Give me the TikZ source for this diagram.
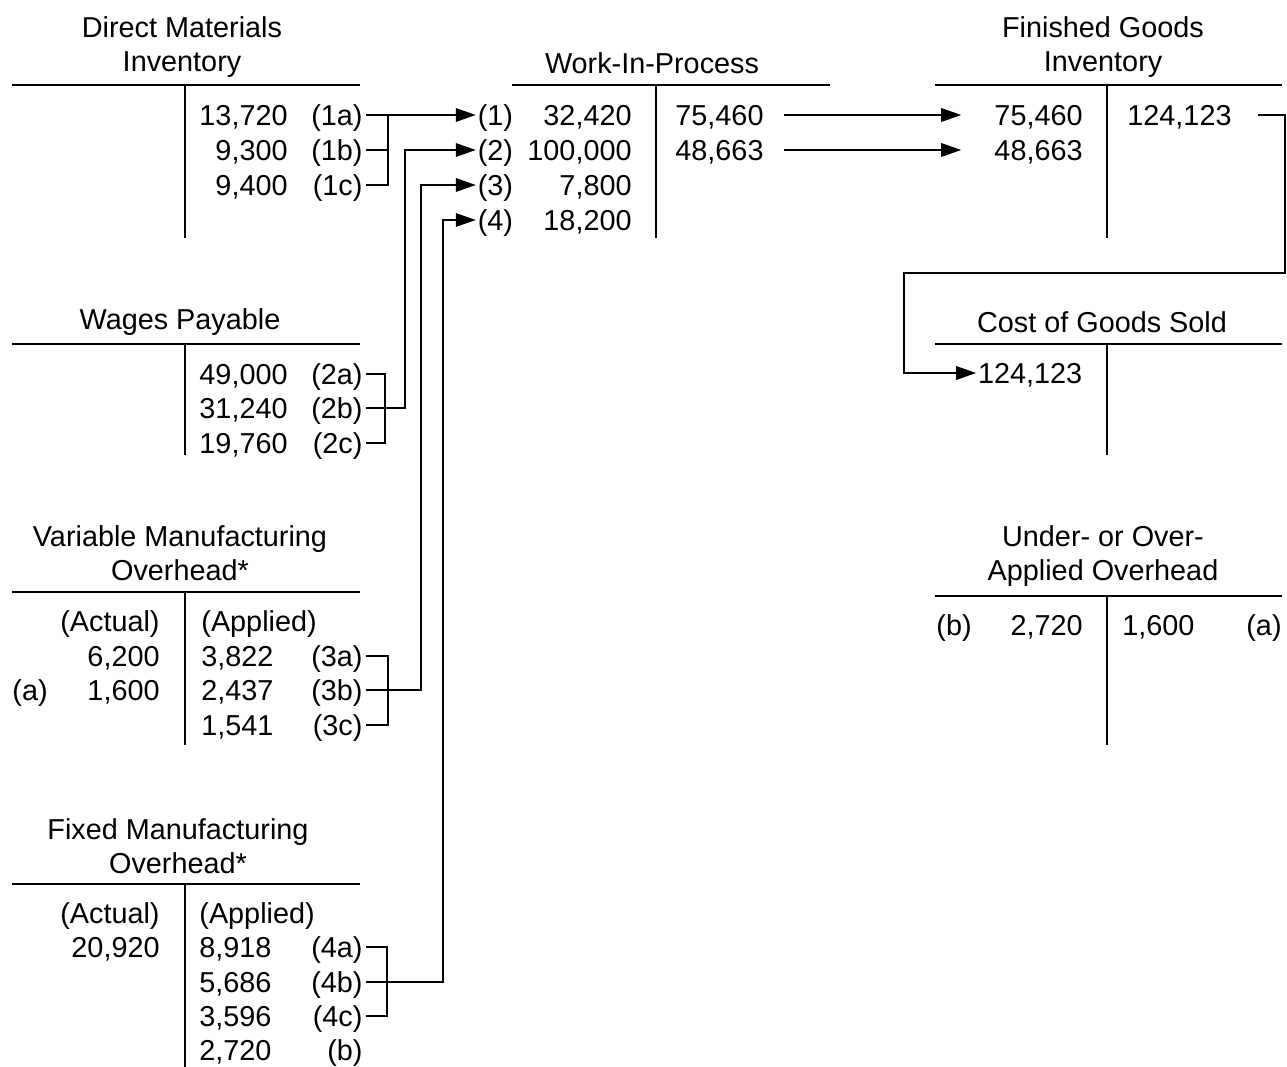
\documentclass[tikz,border=0pt]{standalone}
\usepackage{fontspec}
\setmainfont{Liberation Sans}
\usetikzlibrary{arrows.meta, calc}
\newcommand{\acctsize}{\fontsize{16.4}{19.6}\selectfont}

\begin{document}
\begin{tikzpicture}[x=0.02cm, y=-0.02cm, font=\acctsize, line width=1.6pt,
  >={Triangle[length=11.5pt, width=7.5pt]},
  title/.style={align=center, inner sep=0pt},
  ent/.style={inner sep=0pt, text height=11.5pt, text depth=0pt},
  rgt/.style={ent, anchor=east},
  lft/.style={ent, anchor=west},
  tag/.style={ent, anchor=east, outer xsep=2pt}]
  \useasboundingbox (0,0) rectangle (1287,1067);

  % Direct Materials Inventory
  \node[title] (dmT) at (182,47) {Direct Materials\\Inventory};
  \draw (12,85) -- (360,85);
  \draw (185,85) -- (185,238);
  \node[rgt] (dm1) at (289,115) {13,720};
  \node[rgt] (dm2) at (289,150) {9,300};
  \node[rgt] (dm3) at (289,185) {9,400};
  \node[tag] (dmA) at (366,115) {(1a)};
  \node[tag] (dmB) at (366,150) {(1b)};
  \node[tag] (dmC) at (366,185) {(1c)};

  % Wages Payable
  \node[title] (wgT) at (180,322) {Wages Payable};
  \draw (12,344) -- (360,344);
  \draw (185,344) -- (185,455);
  \node[rgt] (wg1) at (289,374) {49,000};
  \node[rgt] (wg2) at (289,408) {31,240};
  \node[rgt] (wg3) at (289,443) {19,760};
  \node[tag] (wgA) at (366,374) {(2a)};
  \node[tag] (wgB) at (366,408) {(2b)};
  \node[tag] (wgC) at (366,443) {(2c)};

  % Variable Manufacturing Overhead
  \node[title] (voT) at (180,553) {Variable Manufacturing\\Overhead*};
  \draw (12,592) -- (360,592);
  \draw (185,592) -- (185,745);
  \node[rgt] (voAct) at (161,621) {(Actual)};
  \node[rgt] (vo1) at (161,656) {6,200};
  \node[lft] (voa) at (11,690) {(a)};
  \node[rgt] (vo2) at (161,690) {1,600};
  \node[lft] (voApp) at (200,621) {(Applied)};
  \node[lft] (voR1) at (200,656) {3,822};
  \node[lft] (voR2) at (200,690) {2,437};
  \node[lft] (voR3) at (200,725) {1,541};
  \node[tag] (voA) at (366,656) {(3a)};
  \node[tag] (voB) at (366,690) {(3b)};
  \node[tag] (voC) at (366,725) {(3c)};

  % Fixed Manufacturing Overhead
  \node[title] (foT) at (178,846) {Fixed Manufacturing\\Overhead*};
  \draw (12,884) -- (360,884);
  \draw (185,884) -- (185,1067);
  \node[rgt] (foAct) at (161,913) {(Actual)};
  \node[rgt] (fo1) at (161,947) {20,920};
  \node[lft] (foApp) at (198,913) {(Applied)};
  \node[lft] (foR1) at (198,947) {8,918};
  \node[lft] (foR2) at (198,982) {5,686};
  \node[lft] (foR3) at (198,1016) {3,596};
  \node[lft] (foR4) at (198,1050) {2,720};
  \node[tag] (foA) at (366,947) {(4a)};
  \node[tag] (foB) at (366,982) {(4b)};
  \node[tag] (foC) at (366,1016) {(4c)};
  \node[tag] (fob) at (366,1050) {(b)};

  % Work-In-Process
  \node[title] (wpT) at (652,63) {Work-In-Process};
  \draw (512,85) -- (830,85);
  \draw (656,85) -- (656,238);
  \node[lft, outer xsep=1pt] (wp1) at (476,115) {(1)};
  \node[lft, outer xsep=1pt] (wp2) at (476,150) {(2)};
  \node[lft, outer xsep=1pt] (wp3) at (476,185) {(3)};
  \node[lft, outer xsep=1pt] (wp4) at (476,220) {(4)};
  \node[rgt] (wpL1) at (633,115) {32,420};
  \node[rgt] (wpL2) at (633,150) {100,000};
  \node[rgt] (wpL3) at (633,185) {7,800};
  \node[rgt] (wpL4) at (633,220) {18,200};
  \node[lft] (wpR1) at (674,115) {75,460};
  \node[lft] (wpR2) at (674,150) {48,663};

  % Finished Goods Inventory
  \node[title] (fgT) at (1103,47) {Finished Goods\\Inventory};
  \draw (935,85) -- (1282,85);
  \draw (1107,85) -- (1107,238);
  \node[rgt] (fgL1) at (1084,115) {75,460};
  \node[rgt] (fgL2) at (1084,150) {48,663};
  \node[lft] (fgR1) at (1126,115) {124,123};

  % Cost of Goods Sold
  \node[title] (cgT) at (1102,322) {Cost of Goods Sold};
  \draw (935,344) -- (1282,344);
  \draw (1107,344) -- (1107,455);
  \node[rgt, outer xsep=1pt] (cgL1) at (1084,373) {124,123};

  % Under- or Over-Applied Overhead
  \node[title] (uoT) at (1103,556) {Under- or Over-\\Applied Overhead};
  \draw (935,596) -- (1282,596);
  \draw (1107,596) -- (1107,745);
  \node[lft] (uob) at (935,625) {(b)};
  \node[rgt] (uoL1) at (1084,625) {2,720};
  \node[lft] (uoR1) at (1121,625) {1,600};
  \node[rgt] (uoa) at (1283,625) {(a)};

  % brackets and transfers into WIP
  \coordinate (brk1) at (388,0);
  \coordinate (brk2) at (385,0);
  \coordinate (up2) at (405,0);
  \coordinate (brk3) at (388,0);
  \coordinate (up3) at (421,0);
  \coordinate (brk4) at (387,0);
  \coordinate (up4) at (443,0);

  \draw (dmA.east) -- (dmA.east -| brk1) -- (dmC.east -| brk1) -- (dmC.east);
  \draw (dmB.east) -- (dmB.east -| brk1);
  \draw[->] (dmA.east -| brk1) -- (wp1.west);

  \draw (wgA.east) -- (wgA.east -| brk2) -- (wgC.east -| brk2) -- (wgC.east);
  \draw[->] (wgB.east) -- (wgB.east -| up2) -- (wp2.west -| up2) -- (wp2.west);

  \draw (voA.east) -- (voA.east -| brk3) -- (voC.east -| brk3) -- (voC.east);
  \draw[->] (voB.east) -- (voB.east -| up3) -- (wp3.west -| up3) -- (wp3.west);

  \draw (foA.east) -- (foA.east -| brk4) -- (foC.east -| brk4) -- (foC.east);
  \draw[->] (foB.east) -- (foB.east -| up4) -- (wp4.west -| up4) -- (wp4.west);

  % WIP to finished goods
  \draw[->, shorten <=11pt, shorten >=18pt] (wpR1.east) -- (fgL1.west);
  \draw[->, shorten <=11pt, shorten >=18pt] (wpR2.east) -- (fgL2.west);

  % finished goods to cost of goods sold
  \coordinate (cgTurn) at (1285,273);
  \coordinate (cgDrop) at (904,273);
  \draw[->] ([xshift=14pt]fgR1.east) -- (fgR1.east -| cgTurn) -- (cgTurn)
    -- (cgDrop) -- (cgDrop |- cgL1.west) -- (cgL1.west);
\end{tikzpicture}
\end{document}
